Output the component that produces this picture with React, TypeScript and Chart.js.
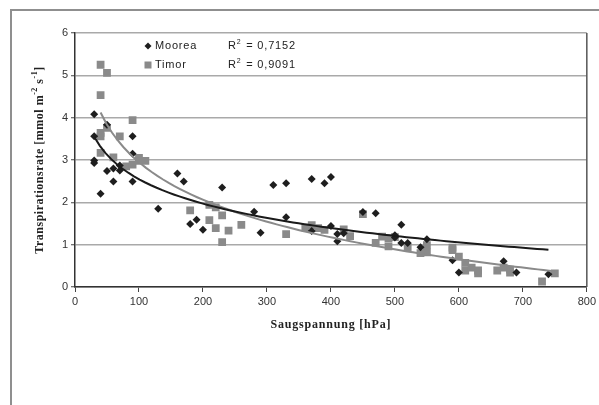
import React, { useEffect, useRef } from 'react';
import { Chart, registerables } from 'chart.js';

Chart.register(...registerables);

// ---- Data ----
const mooreaX = [30, 30, 30, 30, 40, 50, 50, 60, 60, 70, 70, 90, 90, 90, 130, 160, 170, 180, 190, 200, 230, 280, 290, 310, 330, 330, 370, 370, 390, 400, 400, 410, 410, 420, 450, 470, 500, 500, 510, 510, 520, 540, 550, 590, 600, 670, 690, 740];
const mooreaY = [4.08, 3.56, 2.99, 2.93, 2.2, 3.83, 2.74, 2.8, 2.49, 2.87, 2.75, 3.56, 3.15, 2.49, 1.85, 2.68, 2.49, 1.49, 1.59, 1.35, 2.35, 1.78, 1.28, 2.41, 2.45, 1.65, 2.55, 1.32, 2.45, 2.6, 1.44, 1.25, 1.08, 1.27, 1.77, 1.74, 1.22, 1.17, 1.47, 1.04, 1.04, 0.94, 1.13, 0.63, 0.34, 0.61, 0.34, 0.3];

const timorX = [40, 50, 40, 40, 40, 50, 40, 60, 70, 80, 90, 90, 100, 100, 110, 180, 210, 210, 220, 220, 230, 230, 240, 260, 330, 360, 370, 380, 390, 420, 430, 450, 470, 480, 490, 490, 500, 520, 540, 550, 550, 590, 590, 600, 610, 610, 620, 630, 630, 660, 670, 680, 680, 730, 750];
const timorY = [5.25, 5.06, 4.53, 3.64, 3.56, 3.76, 3.17, 3.06, 3.56, 2.85, 3.94, 2.89, 3.05, 2.98, 2.98, 1.81, 1.58, 1.94, 1.88, 1.39, 1.69, 1.06, 1.33, 1.47, 1.25, 1.4, 1.46, 1.39, 1.35, 1.36, 1.2, 1.72, 1.04, 1.19, 1.15, 0.96, 1.18, 0.94, 0.8, 0.82, 0.99, 0.93, 0.87, 0.72, 0.57, 0.39, 0.46, 0.39, 0.32, 0.39, 0.46, 0.41, 0.34, 0.13, 0.32];

// logarithmic trend lines: start and end values
const mooreaTrendX = [30, 740];
const mooreaTrendY = [3.55, 0.88];
const timorTrendX = [40, 750];
const timorTrendY = [4.12, 0.37];

const seriesNames = ['Moorea', 'Timor'];
const r2Values = ['0,7152', '0,9091'];
const xTickMin = 0, xTickMax = 800, xTickStep = 100;
const yTickMin = 0, yTickMax = 6, yTickStep = 1;

// y = a ln(x) + b through the two read end values, sampled for drawing
function trend(tx: number[], ty: number[]) {
  const a = (ty[1] - ty[0]) / (Math.log(tx[1]) - Math.log(tx[0]));
  const b = ty[0] - a * Math.log(tx[0]);
  const pts: { x: number; y: number }[] = [];
  const steps = 80;
  for (let i = 0; i <= steps; i++) {
    const x = tx[0] + ((tx[1] - tx[0]) * i) / steps;
    pts.push({ x, y: a * Math.log(x) + b });
  }
  return pts;
}

const SANS = '"Liberation Sans", Arial, sans-serif';
const SERIF = '"Liberation Serif", "Times New Roman", serif';

const decor = {
  id: 'decor',
  beforeDraw(chart: any) {
    const ctx = chart.ctx;
    ctx.save();
    ctx.fillStyle = '#ffffff';
    ctx.fillRect(0, 0, chart.width, chart.height);
    ctx.strokeStyle = '#8f8f8f';
    ctx.lineWidth = 2;
    ctx.beginPath();
    ctx.moveTo(11, chart.height + 5);
    ctx.lineTo(11, 10);
    ctx.lineTo(chart.width + 5, 10);
    ctx.stroke();
    ctx.restore();
  },
  afterDraw(chart: any) {
    const ctx = chart.ctx;
    const a = chart.chartArea;
    ctx.save();
    // right border of plot area
    ctx.strokeStyle = '#555';
    ctx.lineWidth = 1.5;
    ctx.beginPath();
    ctx.moveTo(a.right, a.top);
    ctx.lineTo(a.right, a.bottom);
    ctx.stroke();

    // legend
    ctx.textBaseline = 'middle';
    ctx.textAlign = 'left';
    (ctx as any).letterSpacing = '0.8px';
    ctx.font = `11px ${SANS}`;
    const rows = [46, 65];
    ctx.fillStyle = '#1e1e1e';
    ctx.beginPath();
    ctx.moveTo(148, rows[0] - 3.5);
    ctx.lineTo(151.5, rows[0]);
    ctx.lineTo(148, rows[0] + 3.5);
    ctx.lineTo(144.5, rows[0]);
    ctx.closePath();
    ctx.fill();
    ctx.fillStyle = '#8a8a8a';
    ctx.fillRect(144.5, rows[1] - 3.5, 7, 7);
    ctx.fillStyle = '#222';
    ctx.fillText(seriesNames[0], 155, rows[0]);
    ctx.fillText(seriesNames[1], 155, rows[1]);
    for (let i = 0; i < 2; i++) {
      let x = 228;
      ctx.font = `11px ${SANS}`;
      ctx.fillText('R', x, rows[i]);
      x += ctx.measureText('R').width;
      ctx.font = `7px ${SANS}`;
      ctx.fillText('2', x, rows[i] - 4);
      x += ctx.measureText('2').width + 1;
      ctx.font = `11px ${SANS}`;
      ctx.fillText(' = ' + r2Values[i], x, rows[i]);
    }

    // x title
    (ctx as any).letterSpacing = '0.8px';
    ctx.font = `bold 12px ${SERIF}`;
    ctx.textAlign = 'center';
    ctx.fillStyle = '#222';
    ctx.fillText('Saugspannung [hPa]', (a.left + a.right) / 2, 325);

    // y title with superscripts
    (ctx as any).letterSpacing = '0.5px';
    ctx.translate(40, (a.top + a.bottom) / 2);
    ctx.rotate(-Math.PI / 2);
    ctx.textAlign = 'left';
    const parts: [string, boolean][] = [
      ['Transpirationsrate [mmol m', false],
      ['-2', true],
      [' s', false],
      ['-1', true],
      [']', false],
    ];
    let total = 0;
    for (const [t, sup] of parts) {
      ctx.font = sup ? `bold 8px ${SERIF}` : `bold 12px ${SERIF}`;
      total += ctx.measureText(t).width;
    }
    let x = -total / 2;
    for (const [t, sup] of parts) {
      ctx.font = sup ? `bold 8px ${SERIF}` : `bold 12px ${SERIF}`;
      ctx.fillText(t, x, sup ? -5 : 0);
      x += ctx.measureText(t).width;
    }
    ctx.restore();
  },
};

export default function App() {
  const ref = useRef<HTMLCanvasElement | null>(null);
  useEffect(() => {
    if (!ref.current) return;
    const chart = new Chart(ref.current, {
      type: 'scatter',
      data: {
        datasets: [
          {
            label: 'Moorea trend',
            type: 'line',
            data: trend(mooreaTrendX, mooreaTrendY),
            borderColor: '#1a1a1a',
            borderWidth: 2,
            pointRadius: 0,
            fill: false,
            tension: 0,
            order: 0,
          } as any,
          {
            label: 'Timor trend',
            type: 'line',
            data: trend(timorTrendX, timorTrendY),
            borderColor: '#8a8a8a',
            borderWidth: 2,
            pointRadius: 0,
            fill: false,
            tension: 0,
            order: 0,
          } as any,
          {
            label: seriesNames[0],
            data: mooreaX.map((x, i) => ({ x, y: mooreaY[i] })),
            pointStyle: 'rectRot',
            pointRadius: 4,
            backgroundColor: '#1e1e1e',
            borderColor: '#1e1e1e',
            borderWidth: 0,
            order: 1,
          },
          {
            label: seriesNames[1],
            data: timorX.map((x, i) => ({ x, y: timorY[i] })),
            pointStyle: 'rect',
            pointRadius: 5.5,
            backgroundColor: '#8a8a8a',
            borderColor: '#8a8a8a',
            borderWidth: 0,
            order: 2,
          },
        ],
      },
      options: {
        animation: false,
        responsive: false,
        devicePixelRatio: 1,
        layout: { padding: { left: 0, top: 33, right: 12, bottom: 0 } },
        plugins: { legend: { display: false }, tooltip: { enabled: false } },
        scales: {
          x: {
            type: 'linear',
            min: xTickMin,
            max: xTickMax,
            ticks: { stepSize: xTickStep, color: '#333', font: { family: SANS, size: 11 }, padding: 3, maxRotation: 0 },
            grid: { drawOnChartArea: false, drawTicks: true, tickLength: 5, tickColor: '#444', tickWidth: 1 },
            border: { color: '#333', width: 1.5 },
            afterFit: (s: any) => { s.height = 118; },
          },
          y: {
            type: 'linear',
            min: yTickMin,
            max: yTickMax,
            ticks: { stepSize: yTickStep, color: '#333', font: { family: SANS, size: 11 }, padding: 3 },
            grid: { color: '#a9a9a9', lineWidth: 1.5, drawTicks: true, tickLength: 4, tickColor: '#444', tickWidth: 1 },
            border: { color: '#333', width: 1.5 },
            afterFit: (s: any) => { s.width = 75; },
          },
        },
      },
      plugins: [decor],
    });
    return () => chart.destroy();
  }, []);
  return (
    <div style={{ position: 'absolute', left: 0, top: 0, width: 599, height: 405 }}>
      <canvas ref={ref} width={599} height={405} style={{ display: 'block' }} />
    </div>
  );
}
